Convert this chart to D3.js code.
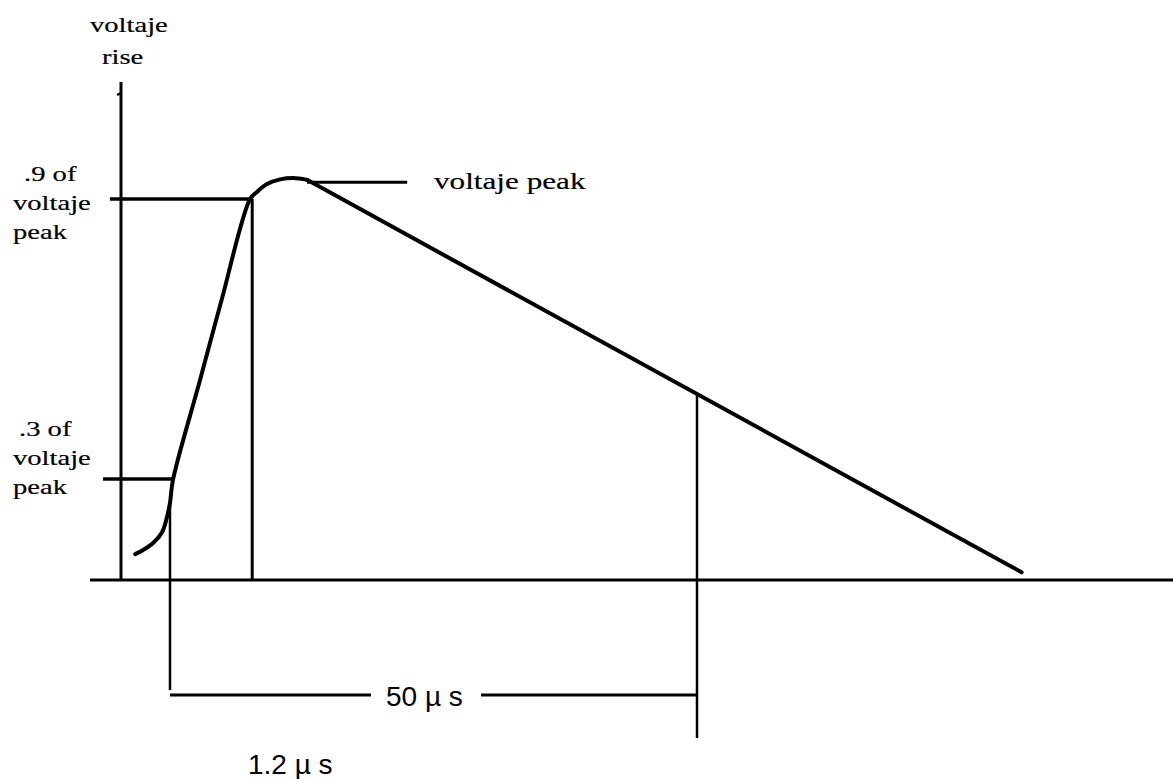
<!DOCTYPE html>
<html>
<head>
<meta charset="utf-8">
<script src="https://cdn.jsdelivr.net/npm/d3@7"></script>
<style>
  html, body { margin: 0; padding: 0; background: #fff; }
  svg { display: block; }
</style>
</head>
<body>
<svg id="chart" width="1173" height="779"></svg>
<script>
// Time in µs (measured from the virtual origin), voltage as a fraction of the peak.
const frontTime    = [-3.3, -2.55, -1.6, -0.75, -0.28, 0, 0.28, 2.85, 4.9, 7.6, 8.25, 9.2, 10.45, 11.7, 13.0];
const frontVoltage = [0.139, 0.148, 0.163, 0.186, 0.219, 0.249, 0.298, 0.512, 0.684, 0.9, 0.915, 0.932, 0.942, 0.945, 0.941];
const tailTime     = [13.0, 80.8];
const tailVoltage  = [0.941, 0.10];

const levelValues  = [0.9, 0.3];
const levelLabels  = [[".9 of", "voltaje", "peak"], [".3 of", "voltaje", "peak"]];
const levelStart   = [-5.7, -6.35];
const levelEnd     = [7.8, 0.28];

const markTimes    = [0, 7.8, 50];
const spanLabels   = ["50 \u00b5 s", "1.2 \u00b5 s"];
const peakLabel    = "voltaje peak";
const axisLabel    = ["voltaje", "rise"];

const svg = d3.select("#chart");
const W = 1173, H = 779;

// Layout
const axisX = 121, axisY = 580, axisTop = 82;
const x = d3.scaleLinear().domain([0, 50]).range([170, 697]);
const y = d3.scaleLinear().domain([0.3, 0.9]).range([479, 199]);

const ink = "#000";

// Axes drawn as plain frame lines
svg.append("line").attr("x1", 90).attr("x2", W).attr("y1", axisY).attr("y2", axisY)
  .attr("stroke", ink).attr("stroke-width", 3);
svg.append("line").attr("x1", axisX).attr("x2", axisX).attr("y1", axisTop).attr("y2", axisY)
  .attr("stroke", ink).attr("stroke-width", 3);
svg.append("line").attr("x1", axisX - 4).attr("x2", axisX).attr("y1", 95).attr("y2", 93)
  .attr("stroke", ink).attr("stroke-width", 2.5);

// Waveform front (smooth) and tail (straight)
const front = frontTime.map((t, i) => [t, frontVoltage[i]]);
svg.append("path").datum(front)
  .attr("d", d3.line().x(d => x(d[0])).y(d => y(d[1])).curve(d3.curveCatmullRom.alpha(0.5)))
  .attr("fill", "none").attr("stroke", ink).attr("stroke-width", 4)
  .attr("stroke-linecap", "round");
const tail = tailTime.map((t, i) => [t, tailVoltage[i]]);
svg.append("path").datum(tail)
  .attr("d", d3.line().x(d => x(d[0])).y(d => y(d[1])))
  .attr("fill", "none").attr("stroke", ink).attr("stroke-width", 4)
  .attr("stroke-linecap", "round");

// Level lines at .9 and .3 of the peak
levelValues.forEach((v, i) => {
  svg.append("line")
    .attr("x1", x(levelStart[i])).attr("x2", x(levelEnd[i]))
    .attr("y1", y(v)).attr("y2", y(v))
    .attr("stroke", ink).attr("stroke-width", 3.5);
});

// Verticals
// at .9 crossing, down to the axis
svg.append("line").attr("x1", x(markTimes[1])).attr("x2", x(markTimes[1]))
  .attr("y1", y(levelValues[0])).attr("y2", axisY)
  .attr("stroke", ink).attr("stroke-width", 3);
// virtual origin, running below the axis
svg.append("line").attr("x1", x(markTimes[0])).attr("x2", x(markTimes[0]))
  .attr("y1", y(0.245)).attr("y2", 690)
  .attr("stroke", ink).attr("stroke-width", 2.5);
// half-value point on the tail
const tailAt = t => tailVoltage[0] + (tailVoltage[1] - tailVoltage[0]) * (t - tailTime[0]) / (tailTime[1] - tailTime[0]);
svg.append("line").attr("x1", x(markTimes[2])).attr("x2", x(markTimes[2]))
  .attr("y1", y(tailAt(markTimes[2]))).attr("y2", 738)
  .attr("stroke", ink).attr("stroke-width", 2.5);

// 50 µs span
const spanY = 695;
svg.append("line").attr("x1", x(markTimes[0])).attr("x2", 371)
  .attr("y1", spanY).attr("y2", spanY).attr("stroke", ink).attr("stroke-width", 3);
svg.append("line").attr("x1", 481).attr("x2", x(markTimes[2]))
  .attr("y1", spanY).attr("y2", spanY).attr("stroke", ink).attr("stroke-width", 3);

const sans = "'Liberation Sans', Arial, sans-serif";
const serif = "'Liberation Serif', 'Times New Roman', serif";

svg.append("text").attr("x", 386).attr("y", 706)
  .attr("font-family", sans).attr("font-size", 28).attr("fill", ink)
  .text(spanLabels[0]);
svg.append("text").attr("x", 248).attr("y", 774)
  .attr("font-family", sans).attr("font-size", 28).attr("fill", ink)
  .text(spanLabels[1]);

// Peak leader and label
const peakV = 0.936;
svg.append("line").attr("x1", x(13.0)).attr("x2", x(22.5))
  .attr("y1", y(peakV)).attr("y2", y(peakV))
  .attr("stroke", ink).attr("stroke-width", 3);

function serifText(tx, ty, str, size, sx) {
  svg.append("g").attr("transform", `translate(${tx},${ty}) scale(${sx},1)`)
    .append("text")
    .attr("font-family", serif).attr("font-size", size).attr("fill", ink)
    .attr("stroke", ink).attr("stroke-width", 0.2)
    .text(str);
}
serifText(434, 189, peakLabel, 24, 1.3);

// Axis label
serifText(90, 32, axisLabel[0], 22, 1.3);
serifText(102, 64, axisLabel[1], 22, 1.3);

// Level labels
const levelLabelY = [181, 436];
levelLabels.forEach((lines, i) => {
  lines.forEach((s, j) => {
    const lx = j === 0 ? (i === 0 ? 24 : 19) : 13;
    serifText(lx, levelLabelY[i] + j * 29, s, 22, 1.3);
  });
});
</script>
</body>
</html>
